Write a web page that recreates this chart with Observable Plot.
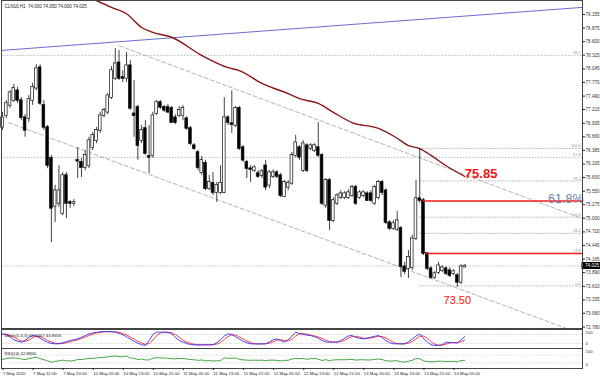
<!DOCTYPE html>
<html><head><meta charset="utf-8">
<script src="https://cdn.jsdelivr.net/npm/d3@7"></script>
<script src="https://cdn.jsdelivr.net/npm/@observablehq/plot@0.6"></script>
<style>
html,body{margin:0;padding:0;background:#fff;}
#chart{width:600px;height:376px;overflow:hidden;position:relative;}
#chart svg{display:block;}
</style></head><body><div id="chart"></div>
<script>
// ---- data (CLN10, H1) ----
const header = "CLN10,H1  74.000 74.050 74.000 74.025";
const openP = [76.85,77.09,77.30,77.40,77.60,77.40,77.05,77.03,77.40,77.65,
78.07,77.30,76.85,76.22,75.24,75.30,75.09,75.87,75.32,75.30,
76.18,76.14,76.03,76.07,76.44,76.58,76.79,77.09,77.16,77.46,
77.85,78.17,77.87,77.85,78.11,77.13,77.26,76.58,76.83,76.26,
76.28,77.13,77.36,77.26,77.26,77.24,77.05,77.09,77.09,77.03,
76.83,76.48,76.34,75.93,76.12,75.60,75.71,75.52,75.52,75.52,
77.05,76.93,76.89,77.24,76.44,76.14,76.01,75.97,75.91,75.87,
76.07,75.67,75.85,75.93,75.87,75.44,75.63,75.71,76.28,76.44,
75.97,76.48,76.42,76.38,76.44,76.28,75.26,75.77,74.95,75.30,
75.42,75.42,75.42,75.46,75.63,75.42,75.46,75.50,75.50,75.30,
75.42,75.73,75.56,74.91,74.79,74.77,74.79,74.01,73.97,73.99,
74.58,75.40,75.36,74.28,73.97,73.79,73.89,73.93,73.97,73.93,
73.87,73.83,73.69,74.00];
const highP = [77.16,77.40,77.60,77.73,77.67,77.46,77.11,77.50,77.75,78.13,
78.13,77.40,76.89,76.28,75.67,76.07,75.93,75.93,75.36,75.38,
76.44,76.22,76.38,76.65,76.75,76.85,77.16,77.24,77.54,78.09,
78.46,78.42,78.01,78.38,78.22,77.81,77.30,76.89,76.99,76.89,
77.16,77.40,77.40,77.30,77.32,77.28,77.11,77.28,77.30,77.07,
76.87,76.52,76.38,76.26,76.18,75.87,75.93,75.73,76.07,77.46,
77.09,77.60,77.28,77.28,76.48,76.18,76.07,76.07,75.97,75.99,
76.18,75.97,75.99,75.97,75.91,75.77,75.77,76.34,76.69,76.48,
76.58,76.52,76.52,76.52,76.95,76.32,75.81,75.81,75.42,75.50,
75.56,75.54,75.58,75.67,75.67,75.56,75.56,75.54,75.56,75.67,
75.77,75.77,75.60,74.95,74.95,75.14,74.83,74.10,74.34,74.65,
75.77,76.42,75.40,74.30,74.01,73.91,74.10,74.03,74.01,73.99,
73.95,73.87,74.05,74.05];
const lowP = [76.79,77.03,77.24,77.36,77.34,76.99,76.65,76.95,77.30,77.60,
77.30,76.79,76.01,74.50,74.91,75.22,75.05,74.99,75.20,75.24,
75.81,75.83,75.97,76.01,76.38,76.52,76.73,77.05,77.11,77.42,
77.81,77.81,77.77,77.77,77.20,76.65,76.18,76.52,76.28,75.91,
76.22,77.09,77.22,77.16,77.13,76.93,76.91,77.05,76.99,76.79,
76.48,76.38,75.97,75.87,75.56,75.56,75.46,75.32,75.48,75.50,
76.89,76.73,76.85,76.38,76.14,75.81,75.73,75.93,75.81,75.81,
75.56,75.60,75.81,75.81,75.42,75.42,75.56,75.67,76.24,76.18,
75.93,75.93,76.38,76.34,76.24,75.26,75.20,74.75,74.91,75.26,
75.38,75.38,75.38,75.42,75.26,75.38,75.42,75.34,75.32,75.26,
75.38,75.46,74.87,74.75,74.75,74.73,73.79,73.85,73.77,73.93,
74.54,75.30,74.24,73.93,73.75,73.75,73.85,73.89,73.83,73.79,
73.83,73.59,73.65,74.00];
const closeP = [77.05,77.34,77.56,77.65,77.40,77.05,76.79,77.42,77.67,78.05,
77.34,76.85,76.07,75.20,75.56,75.56,75.87,75.30,75.30,75.32,
76.16,76.03,76.28,76.58,76.69,76.79,77.09,77.20,77.50,78.01,
78.15,77.85,77.85,78.11,77.24,77.09,76.48,76.79,76.32,76.24,
77.09,77.36,77.26,77.20,77.16,76.95,76.95,77.20,77.24,76.83,
76.52,76.42,76.03,76.18,75.60,75.73,75.52,75.67,75.71,77.05,
76.95,76.91,77.24,76.42,76.18,76.01,75.99,76.03,75.85,75.95,
75.63,75.93,75.93,75.85,75.46,75.73,75.71,76.28,76.54,76.24,
76.52,75.97,76.48,76.48,76.28,75.30,75.77,74.95,75.36,75.46,
75.50,75.50,75.52,75.63,75.30,75.52,75.52,75.36,75.36,75.63,
75.73,75.52,74.91,74.79,74.89,74.95,74.01,73.91,74.20,74.58,
75.40,75.36,74.28,73.97,73.79,73.87,74.03,73.99,73.87,73.83,
73.91,73.69,74.01,74.025];

// moving average (read at sampled bars)
const maBar = [22,25,29,33,37,40,45,53,60,63,69,76,79,84,88,93,100,105,108,111,114,118,123];
const maVal = [79.55,79.44,79.30,79.17,78.89,78.79,78.69,78.32,78.07,78.01,77.75,77.54,77.44,77.34,77.16,76.95,76.83,76.63,76.48,76.42,76.28,76.07,75.85];

// trend lines (bar, price)
const blueBar = [-0.53,154.3], blueVal = [78.42,79.30];
const upperBar = [31,154.3], upperVal = [78.52,74.99];
const lowerBar = [1.6,154.3], lowerVal = [76.95,72.63];

// Fibonacci retracement (spike high -> low)
const fibStartBar = 111;
const fibLabels = ["0.0","23.6","38.2","50.0","61.8","76.4","100.0"];
const fibPrices = [73.62,74.28,74.69,75.02,75.35,75.76,76.42];
const fibRedLabels = ["61.8","23.6"];
const fibRedStart = [112,112.8];
// long dotted levels
const levelLabels = ["38.2","61.8"];
const levelPrices = [78.32,76.24];

// annotations
const maNote = "75.85";
const fibNote = "61.8%";
const lowNote = "73.50";

const bid = 74.025;
const yTicks = [79.155,78.875,78.600,78.325,78.045,77.770,77.490,77.215,76.935,76.660,76.385,76.105,75.830,75.550,75.275,75.000,74.720,74.445,74.165,73.890,73.610,73.335,73.060,72.780];

const stochMain = [84,80,65,45,35,29,40,60,73,70,
55,40,28,20,18,18,25,32,40,45,
51,62,72,84,90,95,98,100,99,98,
96,88,78,65,50,35,22,12,7,40,
80,95,96,95,94,85,60,40,30,20,
13,11,10,11,12,11,12,25,45,70,
84,80,65,50,35,25,18,17,17,18,
18,30,45,51,40,29,45,70,95,86,
80,76,73,65,55,40,30,29,29,29,
40,55,70,73,60,55,51,55,62,68,
73,60,40,25,18,18,17,18,30,50,
70,84,55,30,12,7,7,12,29,27,
25,24,45,67];
const stochSignal = [80,82,76,63,48,36,35,43,58,68,
66,55,41,29,22,19,20,25,32,39,
45,53,62,73,82,90,94,98,99,99,
98,94,87,77,64,50,36,23,14,20,
42,72,90,95,95,91,80,62,43,30,
21,15,11,11,11,11,12,16,27,47,
66,78,76,65,50,37,26,20,17,17,
18,22,31,42,45,40,38,48,70,84,
87,81,76,71,64,53,42,33,29,29,
33,41,55,66,68,63,55,54,56,62,
68,67,58,42,28,20,18,18,22,33,
50,68,70,56,32,16,9,9,16,23,
27,25,31,44];
const rsiVal = [48,52,55,56,54,50,47,52,56,60,
52,46,40,33,38,40,44,40,40,41,
48,47,50,53,54,55,58,59,61,64,
66,62,62,65,55,54,47,50,45,45,
54,57,56,55,54,51,51,53,53,50,
47,46,43,45,40,42,39,41,41,56,
54,54,56,48,45,44,43,44,43,44,
41,44,44,43,40,43,43,50,53,51,
53,48,52,52,50,42,47,40,45,46,
46,46,47,48,44,46,46,45,45,48,
50,47,41,39,40,41,35,34,38,43,
52,51,40,37,35,36,39,38,37,37,
38,35,42,43];
const stochLabel = "Stoch(5,3,3) 66.5667 43.8656";
const rsiLabel = "RSI(14) 42.8966";

const timeBar = [0,8,16,24,32,40,48,56,64,72,80,88,96,104,112,120];
const timeLabels = ["7 May 2010","7 May 12:00","7 May 20:00","10 May 05:00","10 May 13:00","10 May 21:00","11 May 05:00","11 May 13:00","11 May 21:00","12 May 05:00","12 May 13:00","12 May 21:00","13 May 05:00","13 May 13:00","13 May 21:00","14 May 05:00"];

// ---- build tables ----
const candles = openP.map((o,i)=>({i, o, h:highP[i], l:lowP[i], c:closeP[i]}));
const ma = maBar.map((b,k)=>({i:b, p:maVal[k]}));
const pts = (bs,vs)=>bs.map((b,k)=>({i:b,p:vs[k]}));
const fib = fibLabels.map((l,k)=>({label:l, p:fibPrices[k]}));
const fibDotted = fib.filter(d=>!fibRedLabels.includes(d.label));
const fibTexts = fib.filter(d=>d.label!=="61.8");
const fibRed = fibRedLabels.map((l,k)=>({p:fibPrices[fibLabels.indexOf(l)], start:fibRedStart[k]}));
const levels = levelLabels.map((l,k)=>({label:l,p:levelPrices[k]}));
const timeMap = new Map(timeBar.map((b,k)=>[b,timeLabels[k]]));

const XD = [-0.27,154.3];
const FONT = "'Liberation Sans', Arial, sans-serif";
const base = {width:600, marginLeft:1, marginRight:18, x:{domain:XD, axis:null},
  style:{fontFamily:FONT, background:"#fff", color:"#222", overflow:"visible"}};

const main = Plot.plot({
  ...base, height:329, marginTop:0, marginBottom:1,
  y:{domain:[72.75,79.44], axis:null},
  marks:[
    Plot.ruleY(levels,{y:"p", stroke:"#aaa", strokeWidth:0.8, strokeDasharray:"1.5,1.5"}),
    Plot.ruleY([bid],{stroke:"#c4c4c4", strokeWidth:0.8, strokeDasharray:"2,1"}),
    Plot.ruleY(fibDotted,{y:"p", x1:fibStartBar, x2:XD[1], stroke:"#999", strokeWidth:0.8, strokeDasharray:"1.5,1.5"}),
    Plot.text(levels,{x:XD[1], y:"p", text:"label", textAnchor:"end", dx:-2, dy:-2.5, fontSize:3.8, fill:"#8a96b8"}),
    Plot.text(fibTexts,{x:XD[1], y:"p", text:"label", textAnchor:"end", dx:-2, dy:-2.5, fontSize:3.8, fill:"#8a96b8"}),
    Plot.line(pts(blueBar,blueVal),{x:"i", y:"p", stroke:"#6a6ad0", strokeWidth:1, clip:true}),
    Plot.line(pts(upperBar,upperVal),{x:"i", y:"p", stroke:"#a0a0a0", strokeWidth:0.8, strokeDasharray:"4,2.5", clip:true}),
    Plot.line(pts(lowerBar,lowerVal),{x:"i", y:"p", stroke:"#a0a0a0", strokeWidth:0.8, strokeDasharray:"4,2.5", clip:true}),
    Plot.line(ma,{x:"i", y:"p", curve:"monotone-x", stroke:"#8b1414", strokeWidth:1.4, clip:true}),
    Plot.ruleX(candles,{x:"i", y1:"l", y2:"h", stroke:"#111", strokeWidth:0.8}),
    Plot.rect(candles,{x1:d=>d.i-0.36, x2:d=>d.i+0.36, y1:"o", y2:"c",
      fill:d=>d.c>=d.o?"#fff":"#000", stroke:"#111", strokeWidth:0.7, insetTop:-0.3, insetBottom:-0.3}),
    Plot.ruleY(fibRed,{y:"p", x1:"start", x2:XD[1], stroke:"#ff1a1a", strokeWidth:1.6}),
    Plot.text([ma[ma.length-1]],{x:"i", y:"p", text:()=>maNote, textAnchor:"start", dx:0, dy:-3, fontSize:13, fontWeight:"bold", fill:"#ff1010"}),
    Plot.text([fibRed[0]],{x:XD[1], y:"p", text:()=>fibNote, textAnchor:"end", dx:1, dy:-2, fontSize:12.5, fill:"#6c82a4"}),
    Plot.text([candles[121]],{x:"i", y:"l", text:()=>lowNote, textAnchor:"middle", dy:13, fontSize:11, fill:"#ff1010"}),
    Plot.axisY(yTicks,{anchor:"right", tickSize:2, tickPadding:1, fontSize:4.6, tickFormat:d=>d.toFixed(3), fill:"#333"}),
    Plot.rect([bid],{x1:XD[1], x2:XD[1], y1:d=>d, y2:d=>d, insetLeft:-0.5, insetRight:-18, insetTop:-3.5, insetBottom:-3.5, fill:"#000"}),
    Plot.text([bid],{x:XD[1], y:d=>d, text:d=>d.toFixed(3), textAnchor:"start", dx:2.5, fontSize:4.6, fill:"#fff"}),
    Plot.frame({stroke:"#444"}),
    Plot.text([header],{frameAnchor:"top-left", dx:3, dy:4, fontSize:4.5, fill:"#222"})
  ]
});

const stoch = Plot.plot({
  ...base, height:19, marginTop:2, marginBottom:2,
  y:{domain:[0,100], axis:null},
  marks:[
    Plot.ruleY([20,80],{stroke:"#bbb", strokeWidth:0.7, strokeDasharray:"1,1.5"}),
    Plot.lineY(stochSignal,{stroke:"#ff2a2a", strokeWidth:0.9}),
    Plot.lineY(stochMain,{stroke:"#3030ff", strokeWidth:0.9}),
    Plot.text([100],{x:XD[1], y:d=>d, text:d=>String(d), textAnchor:"start", dx:3, dy:1.5, fontSize:4.3, fill:"#333"}),
    Plot.text([0],{x:XD[1], y:d=>d, text:d=>String(d), textAnchor:"start", dx:3, dy:-3, fontSize:4.3, fill:"#333"}),
    Plot.frame({stroke:"#444", insetTop:-2, insetBottom:-2}),
    Plot.text([stochLabel],{frameAnchor:"top-left", dx:3, dy:2.5, fontSize:4.3, fill:"#222"})
  ]
});

const rsiPlot = Plot.plot({
  ...base, height:28, marginTop:1, marginBottom:8,
  y:{domain:[0,100], axis:null},
  marks:[
    Plot.ruleY([30,70],{stroke:"#bbb", strokeWidth:0.7, strokeDasharray:"1,1.5"}),
    Plot.lineY(rsiVal,{stroke:"#2f9a2f", strokeWidth:0.9}),
    Plot.text([100],{x:XD[1], y:d=>d, text:d=>String(d), textAnchor:"start", dx:3, dy:2.5, fontSize:4.3, fill:"#333"}),
    Plot.text([0],{x:XD[1], y:d=>d, text:d=>String(d), textAnchor:"start", dx:3, dy:-4, fontSize:4.3, fill:"#333"}),
    Plot.frame({stroke:"#444", insetTop:-1}),
    Plot.text([rsiLabel],{frameAnchor:"top-left", dx:3, dy:2.5, fontSize:4.3, fill:"#222"}),
    Plot.axisX(timeBar,{anchor:"bottom", tickSize:2, tickPadding:1, fontSize:4.3, textAnchor:"start", dx:0.5, tickFormat:d=>timeMap.get(d), fill:"#222"})
  ]
});

const el = document.getElementById("chart");
el.append(main, stoch, rsiPlot);
</script></body></html>
